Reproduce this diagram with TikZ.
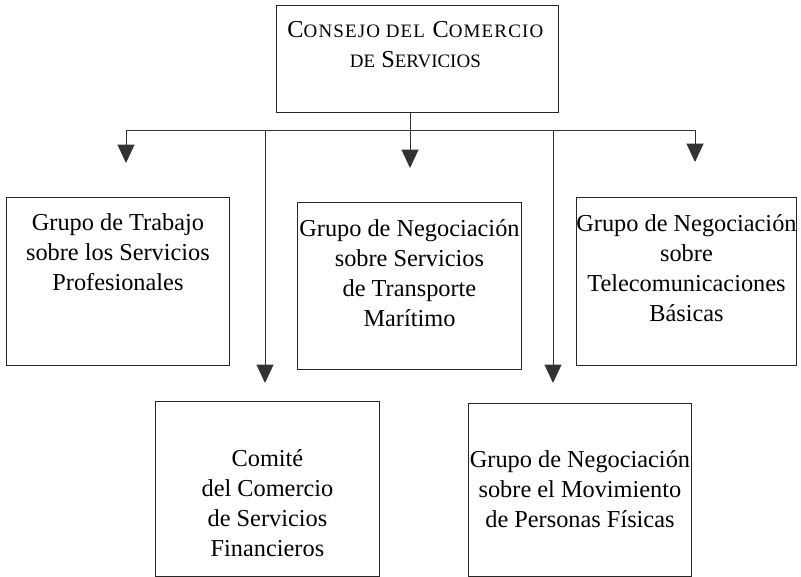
\documentclass[tikz,border=0pt]{standalone}
\usepackage{fontspec}
\setmainfont{Liberation Serif}
\newfontfamily\titlefont[LetterSpace=6]{Liberation Serif}
\usetikzlibrary{arrows.meta,positioning}
\newcommand{\smc}[1]{{\fontsize{13.5}{16}\selectfont #1}}
\tikzset{
    box/.style={draw=black!85, line width=0.6pt, inner sep=0pt, minimum width=5.6cm, minimum height=4.2cm}, % recuadros
    txt/.style={align=center, inner sep=0pt, font=\fontsize{17.3}{21.5}\selectfont}, % texto de los recuadros
    link/.style={draw=black!80, line width=0.6pt}, % lineas
    arr/.style={link, -{Triangle[width=12pt, length=13pt]}} % flechas
}
\begin{document}
\begin{tikzpicture}[x=0.025cm, y=-0.025cm]
    \useasboundingbox (0,0) rectangle (801,577);

    % recuadros
    \node[box, anchor=north west, minimum width=7.05cm, minimum height=2.675cm] (consejo) at (276,5) {};
    \node[box, anchor=north west, minimum width=5.575cm] (trabajo) at (6,197) {};
    \node[box, anchor=north west, minimum height=4.175cm] (maritimo) at (297,202) {};
    \node[box, anchor=north west, minimum width=5.5cm] (telecom) at (576,197) {};
    \node[box, anchor=north west, minimum height=4.375cm] (comite) at (155,401) {};
    \node[box, anchor=north west, minimum width=5.575cm, minimum height=4.325cm] (personas) at (468,403) {};

    % textos
    \node[txt, below=0.4cm of consejo.north, xshift=-1.5pt] (consejo-t) {\titlefont C\smc{ONSEJO DEL} C\smc{OMERCIO}\\\smc{DE} S\smc{ERVICIOS}};
    \node[txt, below=0.4cm of trabajo.north] (trabajo-t) {Grupo de Trabajo\\sobre los Servicios\\Profesionales};
    \node[txt, below=0.425cm of maritimo.north] (maritimo-t) {Grupo de Negociación\\sobre Servicios\\de Transporte\\Marítimo};
    \node[txt, below=0.425cm of telecom.north] (telecom-t) {Grupo de Negociación\\sobre\\Telecomunicaciones\\Básicas};
    \node[txt, below=1.2cm of comite.north] (comite-t) {Comité\\del Comercio\\de Servicios\\Financieros};
    \node[txt, below=1.175cm of personas.north] (personas-t) {Grupo de Negociación\\sobre el Movimiento\\de Personas Físicas};

    % conexiones
    \coordinate (split) at (410,130);
    \coordinate (izq) at (126,130);
    \coordinate (der) at (695,130);
    \coordinate (bajo1) at (265,130);
    \coordinate (bajo2) at (553,130);
    \draw[link] (consejo.south -| split) -- (split);
    \draw[link] (izq) -- (der);
    \draw[arr, shorten >=0.85cm] (izq) -- (izq |- trabajo.north);
    \draw[arr, shorten >=0.85cm] (split) -- (split |- maritimo.north);
    \draw[arr, shorten >=0.875cm] (der) -- (der |- telecom.north);
    \draw[arr, shorten >=0.45cm] (bajo1) -- (bajo1 |- comite.north);
    \draw[arr, shorten >=0.5cm] (bajo2) -- (bajo2 |- personas.north);
\end{tikzpicture}
\end{document}
